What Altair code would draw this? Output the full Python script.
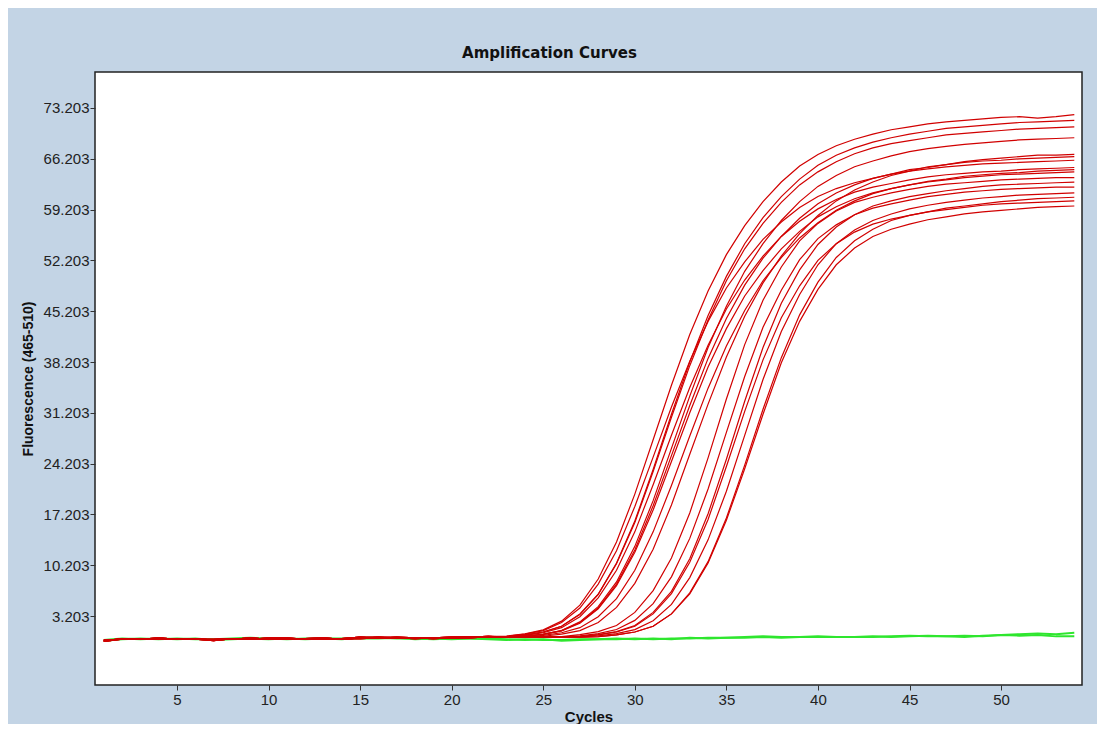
import altair as alt
import pandas as pd

cycles = list(range(1, 55))

# shared noisy baselines for cycles 1..22 (red curves)
base_a = [-0.2, 0.1, 0.1, 0.0, 0.0, 0.1, -0.1, 0.0, 0.2, 0.0, 0.1, 0.1, 0.0, 0.1, 0.3, 0.2, 0.2, 0.2, 0.1, 0.2, 0.3, 0.4]
base_b = [-0.1, 0.0, 0.0, 0.2, 0.0, 0.0, 0.0, 0.1, 0.1, 0.1, 0.0, 0.1, 0.2, 0.0, 0.2, 0.3, 0.2, 0.1, 0.2, 0.3, 0.3, 0.3]
base_c = [-0.3, 0.0, 0.1, 0.1, 0.1, 0.0, -0.2, 0.1, 0.0, 0.2, 0.2, 0.0, 0.1, 0.1, 0.1, 0.2, 0.3, 0.2, 0.2, 0.2, 0.2, 0.35]

# red curves, cycles 23..54
rise_e1 = [0.45, 0.75, 1.3, 2.5, 4.7, 8.3, 13.4, 20.0, 27.5, 35.0, 42.0, 48.0, 53.0, 57.0, 60.3, 63.0, 65.2, 66.8, 68.0, 68.9, 69.6, 70.2, 70.6, 71.0, 71.3, 71.5, 71.7, 71.9, 72.0, 71.8, 72.0, 72.3]
rise_e2 = [0.35, 0.6, 1.0, 1.8, 3.5, 6.2, 10.5, 16.3, 23.4, 31.0, 38.2, 44.6, 50.0, 54.5, 58.1, 61.0, 63.4, 65.3, 66.7, 67.7, 68.5, 69.1, 69.6, 70.0, 70.4, 70.6, 70.8, 71.0, 71.2, 71.3, 71.4, 71.5]
rise_e3 = [0.4, 0.7, 1.2, 2.3, 4.3, 7.6, 12.2, 18.3, 25.1, 32.0, 38.3, 43.8, 48.4, 52.0, 55.1, 57.5, 59.5, 61.0, 62.1, 62.9, 63.5, 64.1, 64.5, 64.8, 65.1, 65.3, 65.5, 65.6, 65.7, 65.8, 65.9, 66.0]
rise_e4 = [0.35, 0.6, 1.0, 1.8, 3.4, 6.2, 10.4, 16.1, 23.1, 30.6, 37.7, 44.0, 49.4, 53.8, 57.3, 60.2, 62.6, 64.4, 65.8, 66.9, 67.7, 68.3, 68.7, 69.1, 69.5, 69.7, 69.9, 70.1, 70.3, 70.4, 70.5, 70.6]
rise_e5 = [0.3, 0.55, 0.9, 1.6, 3.1, 5.7, 9.5, 14.8, 21.3, 28.1, 34.7, 40.5, 45.5, 49.5, 52.8, 55.5, 57.6, 59.3, 60.6, 61.6, 62.3, 62.8, 63.3, 63.7, 64.0, 64.2, 64.4, 64.5, 64.7, 64.8, 64.9, 65.0]
rise_e6 = [0.3, 0.45, 0.7, 1.2, 2.4, 4.5, 7.9, 12.8, 19.1, 26.3, 33.5, 40.2, 45.9, 50.7, 54.5, 57.7, 60.3, 62.4, 63.9, 65.1, 65.9, 66.6, 67.2, 67.6, 67.9, 68.2, 68.4, 68.6, 68.8, 68.9, 69.0, 69.1]
rise_e7 = [0.27, 0.4, 0.67, 1.16, 2.2, 4.2, 7.4, 12.0, 17.8, 24.5, 31.2, 37.5, 42.8, 47.3, 50.8, 53.8, 56.2, 58.2, 59.6, 60.7, 61.5, 62.1, 62.6, 63.0, 63.3, 63.6, 63.8, 64.0, 64.1, 64.2, 64.3, 64.4]
rise_e8 = [0.28, 0.41, 0.69, 1.2, 2.3, 4.3, 7.6, 12.3, 18.4, 25.3, 32.2, 38.7, 44.2, 48.8, 52.5, 55.5, 58.0, 60.0, 61.5, 62.6, 63.5, 64.1, 64.7, 65.0, 65.4, 65.7, 65.9, 66.0, 66.2, 66.3, 66.4, 66.5]
rise_e9 = [0.27, 0.31, 0.54, 0.9, 1.6, 3.1, 5.6, 9.5, 14.8, 21.2, 28.0, 34.6, 40.4, 45.3, 49.4, 52.6, 55.3, 57.4, 59.1, 60.4, 61.4, 62.1, 62.6, 63.1, 63.4, 63.8, 64.0, 64.2, 64.3, 64.5, 64.6, 64.7]
rise_e10 = [0.28, 0.28, 0.42, 0.7, 1.2, 2.3, 4.4, 7.7, 12.4, 18.5, 25.5, 32.4, 38.9, 44.5, 49.1, 52.8, 55.9, 58.4, 60.4, 61.9, 63.0, 63.9, 64.5, 65.1, 65.4, 65.8, 66.1, 66.3, 66.5, 66.7, 66.7, 66.8]
rise_l1 = [0.32, 0.32, 0.32, 0.37, 0.63, 1.06, 1.9, 3.7, 6.7, 11.2, 17.4, 25.0, 33.1, 40.6, 46.7, 51.3, 54.9, 57.3, 59.0, 60.2, 60.9, 61.5, 62.0, 62.4, 62.7, 62.9, 63.1, 63.3, 63.4, 63.5, 63.6, 63.6]
rise_l2 = [0.31, 0.31, 0.31, 0.31, 0.47, 0.78, 1.35, 2.6, 4.9, 8.6, 13.9, 20.7, 28.5, 36.2, 43.0, 48.1, 52.3, 55.2, 57.1, 58.5, 59.4, 60.0, 60.5, 61.0, 61.3, 61.6, 61.8, 62.0, 62.1, 62.2, 62.3, 62.3]
rise_l3 = [0.31, 0.31, 0.31, 0.31, 0.37, 0.63, 1.05, 1.9, 3.7, 6.6, 11.1, 17.3, 24.8, 32.8, 40.2, 46.3, 50.9, 54.4, 56.8, 58.5, 59.7, 60.4, 61.0, 61.4, 61.8, 62.1, 62.4, 62.6, 62.7, 62.8, 62.9, 63.0]
rise_l4 = [0.3, 0.3, 0.3, 0.3, 0.35, 0.6, 1.0, 1.8, 3.5, 6.3, 10.6, 16.5, 23.8, 31.4, 38.5, 44.3, 48.7, 52.2, 54.5, 56.1, 57.2, 57.9, 58.4, 58.9, 59.2, 59.5, 59.8, 60.0, 60.1, 60.2, 60.3, 60.4]
rise_l5 = [0.31, 0.31, 0.31, 0.31, 0.31, 0.46, 0.77, 1.33, 2.55, 4.8, 8.5, 13.7, 20.4, 28.1, 35.8, 42.4, 47.5, 51.6, 54.5, 56.4, 57.7, 58.6, 59.3, 59.8, 60.2, 60.5, 60.8, 61.0, 61.2, 61.3, 61.4, 61.5]
rise_l6 = [0.3, 0.3, 0.3, 0.3, 0.3, 0.35, 0.6, 1.0, 1.8, 3.5, 6.25, 10.5, 16.4, 23.5, 31.0, 38.1, 43.8, 48.2, 51.6, 53.9, 55.5, 56.5, 57.2, 57.8, 58.2, 58.6, 58.9, 59.1, 59.3, 59.5, 59.6, 59.7]
rise_l7 = [0.3, 0.3, 0.3, 0.3, 0.3, 0.35, 0.6, 1.0, 1.8, 3.5, 6.4, 10.7, 16.7, 24.0, 31.7, 38.8, 44.7, 49.2, 52.6, 54.9, 56.5, 57.7, 58.4, 58.9, 59.4, 59.7, 60.0, 60.3, 60.5, 60.7, 60.8, 60.9]

# green (negative) curves, cycles 1..54
green_1 = [-0.2, 0.0, 0.1, 0.0, 0.1, 0.0, 0.0, 0.1, 0.2, 0.1, 0.0, 0.1, 0.1, 0.0, 0.2, 0.2, 0.1, 0.1, 0.0, 0.1,
           0.1, 0.0, -0.1, 0.0, -0.1, -0.1, 0.0, 0.0, 0.0, 0.1, 0.0, 0.1, 0.1, 0.2, 0.2, 0.3, 0.4, 0.3, 0.3, 0.3,
           0.3, 0.3, 0.3, 0.4, 0.5, 0.4, 0.4, 0.3, 0.5, 0.6, 0.7, 0.8, 0.7, 0.9]
green_2 = [-0.1, 0.1, 0.0, 0.1, 0.0, 0.1, -0.1, 0.0, 0.1, 0.0, 0.1, 0.0, 0.1, 0.1, 0.1, 0.1, 0.2, 0.0, 0.1, 0.0,
           0.1, 0.1, 0.0, -0.1, 0.0, -0.2, -0.1, 0.0, 0.1, 0.0, 0.1, 0.0, 0.2, 0.1, 0.2, 0.2, 0.3, 0.2, 0.3, 0.4,
           0.3, 0.3, 0.4, 0.3, 0.4, 0.5, 0.4, 0.5, 0.4, 0.6, 0.5, 0.6, 0.4, 0.4]

x_ticks = [5, 10, 15, 20, 25, 30, 35, 40, 45, 50]
y_ticks = [3.203, 10.203, 17.203, 24.203, 31.203, 38.203, 45.203, 52.203, 59.203, 66.203, 73.203]
y_minor = [4.953, 6.703, 8.453, 11.953, 13.703, 15.453, 18.953, 20.703, 22.453, 25.953, 27.703, 29.453,
           32.953, 34.703, 36.453, 39.953, 41.703, 43.453, 46.953, 48.703, 50.453, 53.953, 55.703, 57.453,
           60.953, 62.703, 64.453, 67.953, 69.703, 71.453]

red_curves = [
    ("e1", base_a, rise_e1), ("e2", base_b, rise_e2), ("e3", base_c, rise_e3),
    ("e4", base_a, rise_e4), ("e5", base_b, rise_e5), ("e6", base_c, rise_e6),
    ("e7", base_a, rise_e7), ("e8", base_b, rise_e8), ("e9", base_c, rise_e9),
    ("e10", base_a, rise_e10), ("l1", base_b, rise_l1), ("l2", base_c, rise_l2),
    ("l3", base_a, rise_l3), ("l4", base_b, rise_l4), ("l5", base_c, rise_l5),
    ("l6", base_a, rise_l6), ("l7", base_b, rise_l7),
]
green_curves = [("g1", green_1), ("g2", green_2)]

red_rows = []
for name, base, rise in red_curves:
    for c, v in zip(cycles, base + rise):
        red_rows.append({"cycle": c, "value": v, "curve": name})
green_rows = []
for name, vals in green_curves:
    for c, v in zip(cycles, vals):
        green_rows.append({"cycle": c, "value": v, "curve": name})
red_df = pd.DataFrame(red_rows)
green_df = pd.DataFrame(green_rows)

FONT = "Liberation Sans"
x_scale = alt.Scale(domain=[0.52, 54.42], nice=False, zero=False)
y_scale = alt.Scale(domain=[-6.3, 78.16], nice=False, zero=False)

major_test = "abs((datum.value - 3.203) / 7 - round((datum.value - 3.203) / 7)) < 0.01"

x_axis = alt.Axis(
    values=x_ticks, title="Cycles", grid=False, domain=False,
    tickSize=5, tickColor="#333333", labelPadding=2,
    labelFont=FONT, labelFontSize=15, labelColor="#222222",
    titleFont=FONT, titleFontSize=15, titleFontWeight="bold", titleColor="#111111",
    titleY=31, titleBaseline="middle",
)
y_axis = alt.Axis(
    values=y_ticks + y_minor, format=".3f", title="Fluorescence (465-510)",
    grid=False, domain=False, labelOverlap=False,
    labelExpr="(" + major_test + ") ? datum.label : ''",
    tickSize={"condition": {"test": major_test, "value": 5}, "value": 3},
    tickColor="#333333", labelPadding=1,
    labelFont=FONT, labelFontSize=15, labelColor="#222222",
    titleFont=FONT, titleFontSize=14, titleFontWeight="bold", titleColor="#111111",
    titleX=-67, titleBaseline="middle",
)

green_layer = alt.Chart(green_df).mark_line(color="#2ee62e", strokeWidth=2).encode(
    x=alt.X("cycle:Q", scale=x_scale, axis=x_axis),
    y=alt.Y("value:Q", scale=y_scale, axis=y_axis),
    detail="curve:N",
)
red_layer = alt.Chart(red_df).mark_line(color="#d10000", strokeWidth=1.2).encode(
    x=alt.X("cycle:Q", scale=x_scale),
    y=alt.Y("value:Q", scale=y_scale),
    detail="curve:N",
)

chart = alt.layer(green_layer, red_layer).properties(
    width=987,
    height=613,
    autosize=alt.AutoSizeParams(type="none"),
    padding={"left": 87, "top": 64, "right": 15, "bottom": 39},
    title=alt.TitleParams(
        "Amplification Curves", font="DejaVu Sans", fontSize=15, fontWeight="bold",
        color="#111111", anchor="middle", dx=-39, offset=11,
    ),
).configure(background="#c3d4e5").configure_view(
    stroke="#222222", strokeWidth=1.5, fill="white"
)

chart.save("out.html", embed_options={"renderer": "svg", "actions": False})
